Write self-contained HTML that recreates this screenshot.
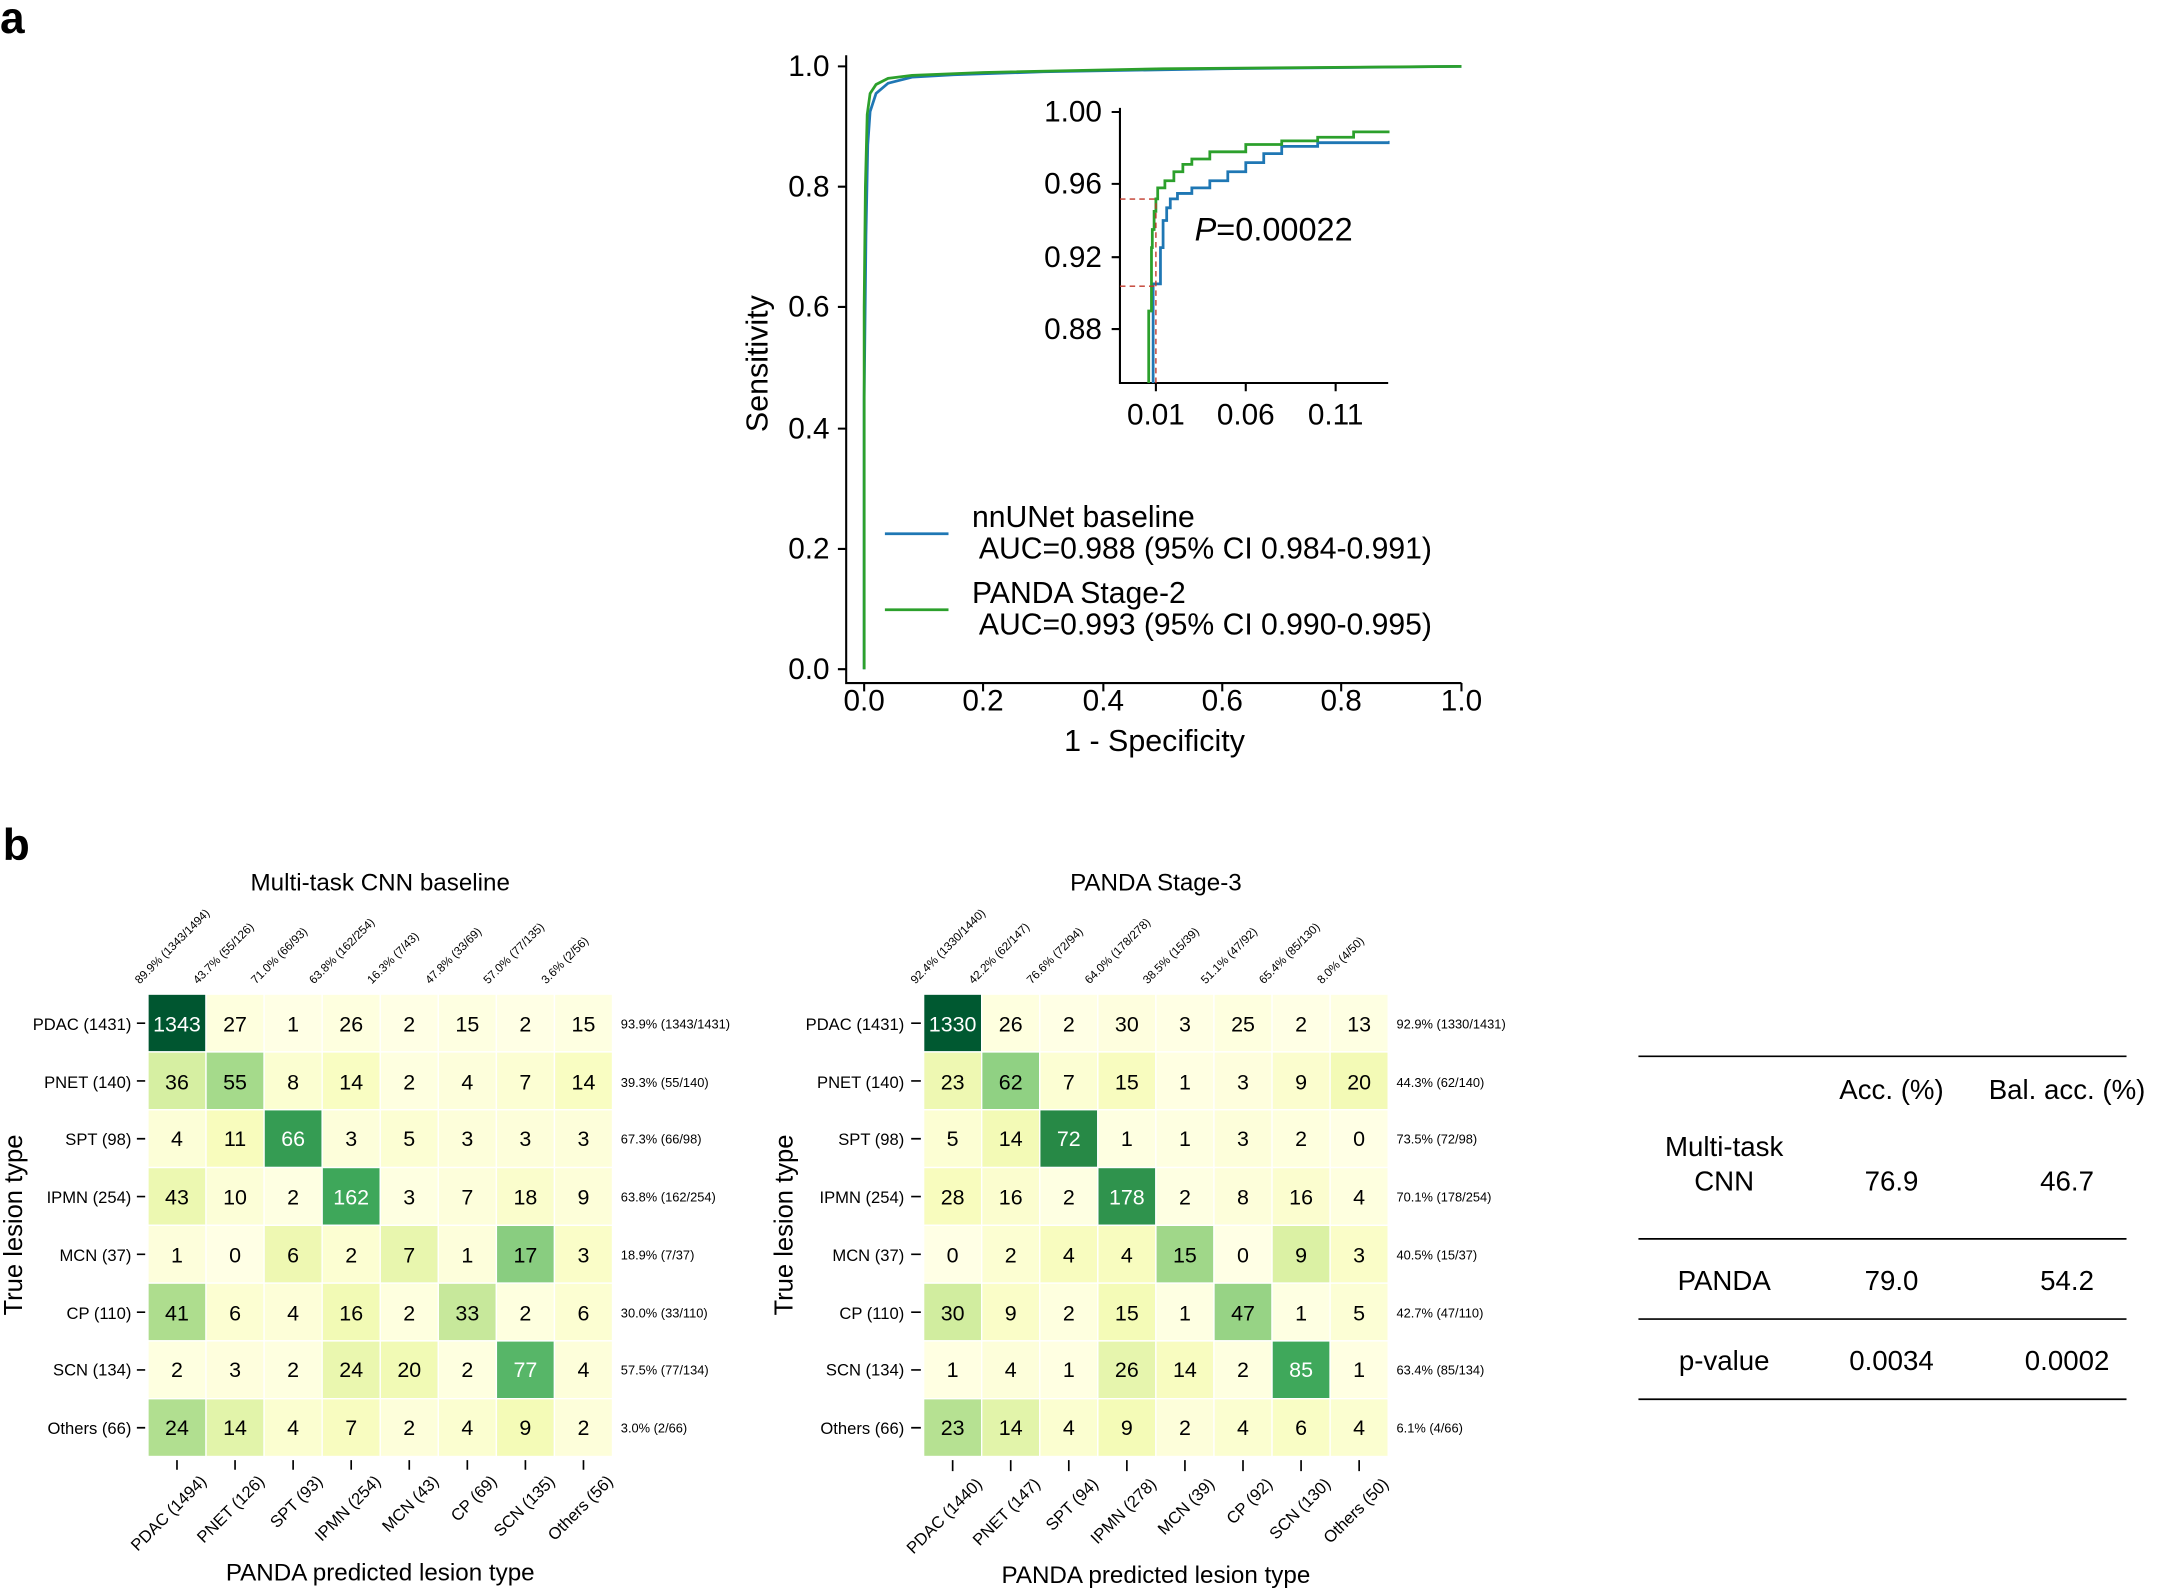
<!DOCTYPE html>
<html><head><meta charset="utf-8"><style>
html,body{margin:0;padding:0;background:#fff}
svg{display:block}
text{font-family:"Liberation Sans",sans-serif;fill:#000}
.n{font-family:"Liberation Sans Narrow","Liberation Sans",sans-serif}
</style></head><body>
<svg id="s" width="2168" height="1592" viewBox="0 0 1568 1151.4" preserveAspectRatio="none" xmlns="http://www.w3.org/2000/svg">
<defs><clipPath id="ic"><rect x="811" y="78" width="194" height="199"/></clipPath></defs>
<text x="0" y="24" font-size="32" font-weight="bold">a</text>
<text x="2" y="622" font-size="32" font-weight="bold">b</text>

<g stroke="#000" stroke-width="1.5" fill="none">
<path d="M612,40 V494 H1057"/>
<path d="M606,48 H612 M606,135 H612 M606,222 H612 M606,310 H612 M606,397 H612 M606,484 H612"/>
<path d="M625,494 V500 M711,494 V500 M798,494 V500 M884,494 V500 M970,494 V500 M1057,494 V500"/>
</g>
<g font-size="21.5" text-anchor="end">
<text x="600" y="55">1.0</text><text x="600" y="142">0.8</text><text x="600" y="229">0.6</text>
<text x="600" y="317">0.4</text><text x="600" y="404">0.2</text><text x="600" y="491">0.0</text>
</g>
<g font-size="21.5" text-anchor="middle">
<text x="625" y="514">0.0</text><text x="711" y="514">0.2</text><text x="798" y="514">0.4</text>
<text x="884" y="514">0.6</text><text x="970" y="514">0.8</text><text x="1057" y="514">1.0</text>
<text x="835" y="543" font-size="22">1 - Specificity</text>
<text transform="translate(555,263) rotate(-90)" font-size="22">Sensitivity</text>
</g>
<path id="mb" fill="none" stroke="#1f77b4" stroke-width="2"/>
<path id="mg" fill="none" stroke="#2ca02c" stroke-width="2"/>

<g stroke="#000" stroke-width="1.5" fill="none">
<path d="M810,78 V277 H1004"/>
<path d="M804,81 H810 M804,133 H810 M804,186 H810 M804,238 H810"/>
<path d="M836,277 V283 M901,277 V283 M966,277 V283"/>
</g>
<g clip-path="url(#ic)">
<path id="ib" fill="none" stroke="#1f77b4" stroke-width="2"/>
<path id="ig" fill="none" stroke="#2ca02c" stroke-width="2"/>
</g>
<path d="M810,144 H836 M810,207 H836 M836,277 V144" stroke="#c0392b" stroke-width="1" stroke-dasharray="4,3" fill="none"/>
<g font-size="21.5" text-anchor="end">
<text x="797" y="88">1.00</text><text x="797" y="140">0.96</text><text x="797" y="193">0.92</text><text x="797" y="245">0.88</text>
</g>
<g font-size="21.5" text-anchor="middle">
<text x="836" y="307">0.01</text><text x="901" y="307">0.06</text><text x="966" y="307">0.11</text>
</g>
<text x="864" y="174" font-size="23.5"><tspan font-style="italic">P</tspan>=0.00022</text>

<path d="M640,386 H686" stroke="#1f77b4" stroke-width="2"/>
<path d="M640,441 H686" stroke="#2ca02c" stroke-width="2"/>
<g font-size="21.8">
<text x="703" y="381">nnUNet baseline</text>
<text x="708" y="404">AUC=0.988 (95% CI 0.984-0.991)</text>
<text x="703" y="436">PANDA Stage-2</text>
<text x="708" y="459">AUC=0.993 (95% CI 0.990-0.995)</text>
</g>

<g id="cells"></g>
<text x="275" y="644" font-size="17.5" text-anchor="middle">Multi-task CNN baseline</text>
<text x="836" y="644" font-size="17.5" text-anchor="middle">PANDA Stage-3</text>

<g class="n" font-size="8.5">
<text transform="translate(101,712) rotate(-45)" class="n">89.9% (1343/1494)</text>
<text transform="translate(143,712) rotate(-45)" class="n">43.7% (55/126)</text>
<text transform="translate(185,712) rotate(-45)" class="n">71.0% (66/93)</text>
<text transform="translate(227,712) rotate(-45)" class="n">63.8% (162/254)</text>
<text transform="translate(269,712) rotate(-45)" class="n">16.3% (7/43)</text>
<text transform="translate(311,712) rotate(-45)" class="n">47.8% (33/69)</text>
<text transform="translate(353,712) rotate(-45)" class="n">57.0% (77/135)</text>
<text transform="translate(395,712) rotate(-45)" class="n">3.6% (2/56)</text>
<text transform="translate(662,712) rotate(-45)" class="n">92.4% (1330/1440)</text>
<text transform="translate(704,712) rotate(-45)" class="n">42.2% (62/147)</text>
<text transform="translate(746,712) rotate(-45)" class="n">76.6% (72/94)</text>
<text transform="translate(788,712) rotate(-45)" class="n">64.0% (178/278)</text>
<text transform="translate(830,712) rotate(-45)" class="n">38.5% (15/39)</text>
<text transform="translate(872,712) rotate(-45)" class="n">51.1% (47/92)</text>
<text transform="translate(914,712) rotate(-45)" class="n">65.4% (85/130)</text>
<text transform="translate(956,712) rotate(-45)" class="n">8.0% (4/50)</text>
</g>

<g class="n" font-size="9.3">
<text x="449" y="744" class="n">93.9% (1343/1431)</text>
<text x="449" y="786" class="n">39.3% (55/140)</text>
<text x="449" y="827" class="n">67.3% (66/98)</text>
<text x="449" y="869" class="n">63.8% (162/254)</text>
<text x="449" y="911" class="n">18.9% (7/37)</text>
<text x="449" y="953" class="n">30.0% (33/110)</text>
<text x="449" y="994" class="n">57.5% (77/134)</text>
<text x="449" y="1036" class="n">3.0% (2/66)</text>
<text x="1010" y="744" class="n">92.9% (1330/1431)</text>
<text x="1010" y="786" class="n">44.3% (62/140)</text>
<text x="1010" y="827" class="n">73.5% (72/98)</text>
<text x="1010" y="869" class="n">70.1% (178/254)</text>
<text x="1010" y="911" class="n">40.5% (15/37)</text>
<text x="1010" y="953" class="n">42.7% (47/110)</text>
<text x="1010" y="994" class="n">63.4% (85/134)</text>
<text x="1010" y="1036" class="n">6.1% (4/66)</text>
</g>

<g class="n" font-size="12" text-anchor="end">
<text x="95" y="745" class="n">PDAC (1431)</text>
<text x="95" y="787" class="n">PNET (140)</text>
<text x="95" y="828" class="n">SPT (98)</text>
<text x="95" y="870" class="n">IPMN (254)</text>
<text x="95" y="912" class="n">MCN (37)</text>
<text x="95" y="954" class="n">CP (110)</text>
<text x="95" y="995" class="n">SCN (134)</text>
<text x="95" y="1037" class="n">Others (66)</text>
<text x="654" y="745" class="n">PDAC (1431)</text>
<text x="654" y="787" class="n">PNET (140)</text>
<text x="654" y="828" class="n">SPT (98)</text>
<text x="654" y="870" class="n">IPMN (254)</text>
<text x="654" y="912" class="n">MCN (37)</text>
<text x="654" y="954" class="n">CP (110)</text>
<text x="654" y="995" class="n">SCN (134)</text>
<text x="654" y="1037" class="n">Others (66)</text>
</g>
<g id="ticks" stroke="#000" stroke-width="1.2"></g>

<g class="n" font-size="12" text-anchor="end">
<text transform="translate(150,1072) rotate(-45)" class="n">PDAC (1494)</text>
<text transform="translate(192,1072) rotate(-45)" class="n">PNET (126)</text>
<text transform="translate(234,1072) rotate(-45)" class="n">SPT (93)</text>
<text transform="translate(276,1072) rotate(-45)" class="n">IPMN (254)</text>
<text transform="translate(318,1072) rotate(-45)" class="n">MCN (43)</text>
<text transform="translate(360,1072) rotate(-45)" class="n">CP (69)</text>
<text transform="translate(402,1072) rotate(-45)" class="n">SCN (135)</text>
<text transform="translate(444,1072) rotate(-45)" class="n">Others (56)</text>
<text transform="translate(711,1074) rotate(-45)" class="n">PDAC (1440)</text>
<text transform="translate(753,1074) rotate(-45)" class="n">PNET (147)</text>
<text transform="translate(795,1074) rotate(-45)" class="n">SPT (94)</text>
<text transform="translate(837,1074) rotate(-45)" class="n">IPMN (278)</text>
<text transform="translate(879,1074) rotate(-45)" class="n">MCN (39)</text>
<text transform="translate(921,1074) rotate(-45)" class="n">CP (92)</text>
<text transform="translate(963,1074) rotate(-45)" class="n">SCN (130)</text>
<text transform="translate(1005,1074) rotate(-45)" class="n">Others (50)</text>
</g>
<text x="275" y="1143" font-size="17.5" text-anchor="middle">PANDA predicted lesion type</text>
<text x="836" y="1145" font-size="17.5" text-anchor="middle">PANDA predicted lesion type</text>
<text transform="translate(16,886) rotate(-90)" font-size="18.5" text-anchor="middle">True lesion type</text>
<text transform="translate(573,886) rotate(-90)" font-size="18.5" text-anchor="middle">True lesion type</text>

<g class="n" font-size="15.5" text-anchor="middle" id="nums">
<text x="128" y="746" style="fill:#fff">1343</text><text x="170" y="746">27</text><text x="212" y="746">1</text><text x="254" y="746">26</text><text x="296" y="746">2</text><text x="338" y="746">15</text><text x="380" y="746">2</text><text x="422" y="746">15</text>
<text x="128" y="788">36</text><text x="170" y="788">55</text><text x="212" y="788">8</text><text x="254" y="788">14</text><text x="296" y="788">2</text><text x="338" y="788">4</text><text x="380" y="788">7</text><text x="422" y="788">14</text>
<text x="128" y="829">4</text><text x="170" y="829">11</text><text x="212" y="829" style="fill:#fff">66</text><text x="254" y="829">3</text><text x="296" y="829">5</text><text x="338" y="829">3</text><text x="380" y="829">3</text><text x="422" y="829">3</text>
<text x="128" y="871">43</text><text x="170" y="871">10</text><text x="212" y="871">2</text><text x="254" y="871" style="fill:#fff">162</text><text x="296" y="871">3</text><text x="338" y="871">7</text><text x="380" y="871">18</text><text x="422" y="871">9</text>
<text x="128" y="913">1</text><text x="170" y="913">0</text><text x="212" y="913">6</text><text x="254" y="913">2</text><text x="296" y="913">7</text><text x="338" y="913">1</text><text x="380" y="913">17</text><text x="422" y="913">3</text>
<text x="128" y="955">41</text><text x="170" y="955">6</text><text x="212" y="955">4</text><text x="254" y="955">16</text><text x="296" y="955">2</text><text x="338" y="955">33</text><text x="380" y="955">2</text><text x="422" y="955">6</text>
<text x="128" y="996">2</text><text x="170" y="996">3</text><text x="212" y="996">2</text><text x="254" y="996">24</text><text x="296" y="996">20</text><text x="338" y="996">2</text><text x="380" y="996" style="fill:#fff">77</text><text x="422" y="996">4</text>
<text x="128" y="1038">24</text><text x="170" y="1038">14</text><text x="212" y="1038">4</text><text x="254" y="1038">7</text><text x="296" y="1038">2</text><text x="338" y="1038">4</text><text x="380" y="1038">9</text><text x="422" y="1038">2</text>

<text x="689" y="746" style="fill:#fff">1330</text><text x="731" y="746">26</text><text x="773" y="746">2</text><text x="815" y="746">30</text><text x="857" y="746">3</text><text x="899" y="746">25</text><text x="941" y="746">2</text><text x="983" y="746">13</text>
<text x="689" y="788">23</text><text x="731" y="788">62</text><text x="773" y="788">7</text><text x="815" y="788">15</text><text x="857" y="788">1</text><text x="899" y="788">3</text><text x="941" y="788">9</text><text x="983" y="788">20</text>
<text x="689" y="829">5</text><text x="731" y="829">14</text><text x="773" y="829" style="fill:#fff">72</text><text x="815" y="829">1</text><text x="857" y="829">1</text><text x="899" y="829">3</text><text x="941" y="829">2</text><text x="983" y="829">0</text>
<text x="689" y="871">28</text><text x="731" y="871">16</text><text x="773" y="871">2</text><text x="815" y="871" style="fill:#fff">178</text><text x="857" y="871">2</text><text x="899" y="871">8</text><text x="941" y="871">16</text><text x="983" y="871">4</text>
<text x="689" y="913">0</text><text x="731" y="913">2</text><text x="773" y="913">4</text><text x="815" y="913">4</text><text x="857" y="913">15</text><text x="899" y="913">0</text><text x="941" y="913">9</text><text x="983" y="913">3</text>
<text x="689" y="955">30</text><text x="731" y="955">9</text><text x="773" y="955">2</text><text x="815" y="955">15</text><text x="857" y="955">1</text><text x="899" y="955">47</text><text x="941" y="955">1</text><text x="983" y="955">5</text>
<text x="689" y="996">1</text><text x="731" y="996">4</text><text x="773" y="996">1</text><text x="815" y="996">26</text><text x="857" y="996">14</text><text x="899" y="996">2</text><text x="941" y="996" style="fill:#fff">85</text><text x="983" y="996">1</text>
<text x="689" y="1038">23</text><text x="731" y="1038">14</text><text x="773" y="1038">4</text><text x="815" y="1038">9</text><text x="857" y="1038">2</text><text x="899" y="1038">4</text><text x="941" y="1038">6</text><text x="983" y="1038">4</text>
</g>

<g stroke="#000" stroke-width="1.2">
<path d="M1185,764 H1538 M1185,896 H1538 M1185,954 H1538 M1185,1012 H1538"/>
</g>
<g font-size="20" text-anchor="middle">
<text x="1368" y="795">Acc. (%)</text><text x="1495" y="795">Bal. acc. (%)</text>
<text x="1247" y="836">Multi-task</text><text x="1247" y="861">CNN</text>
<text x="1368" y="861">76.9</text><text x="1495" y="861">46.7</text>
<text x="1247" y="933">PANDA</text><text x="1368" y="933">79.0</text><text x="1495" y="933">54.2</text>
<text x="1247" y="991">p-value</text><text x="1368" y="991">0.0034</text><text x="1495" y="991">0.0002</text>
</g>
</svg>
<script>
(function(){
var NS="http://www.w3.org/2000/svg";
function P(pts,fx,fy){return pts.map(function(p,i){return (i?"L":"M")+fx(p[0]).toFixed(1)+","+fy(p[1]).toFixed(1)}).join("")}
function stair(pts){var o=[pts[0]];for(var i=1;i<pts.length;i++){o.push([pts[i][0],pts[i-1][1]]);o.push(pts[i]);}return o;}
var MX=function(f){return 625+432*f},MY=function(s){return 484-436*s};
var b=[[0,0],[0,0.45],[0.003,0.72],[0.006,0.87],[0.01,0.925],[0.02,0.955],[0.04,0.972],[0.08,0.982],[0.15,0.986],[0.3,0.991],[0.6,0.996],[1,1]];
var g=[[0,0],[0,0.6],[0.002,0.8],[0.005,0.92],[0.01,0.955],[0.02,0.97],[0.04,0.98],[0.08,0.985],[0.2,0.99],[0.5,0.996],[1,1]];
document.getElementById("mb").setAttribute("d",P(b,MX,MY));
document.getElementById("mg").setAttribute("d",P(g,MX,MY));
var IX=function(f){return 836+(f-0.01)*1300},IY=function(s){return 81+(1-s)*1308};
var ib=[[0.0085,0.8],[0.0085,0.905],[0.012,0.905],[0.0125,0.925],[0.014,0.94],[0.016,0.947],[0.018,0.952],[0.022,0.955],[0.03,0.958],[0.04,0.962],[0.05,0.967],[0.06,0.972],[0.07,0.977],[0.08,0.981],[0.1,0.983],[0.14,0.984]];
var ig=[[0.006,0.8],[0.006,0.89],[0.0075,0.925],[0.008,0.935],[0.009,0.945],[0.01,0.952],[0.011,0.958],[0.015,0.962],[0.02,0.967],[0.025,0.971],[0.03,0.974],[0.04,0.978],[0.06,0.982],[0.08,0.984],[0.1,0.986],[0.12,0.989],[0.14,0.989]];
document.getElementById("ib").setAttribute("d",P(stair(ib),IX,IY));
document.getElementById("ig").setAttribute("d",P(stair(ig),IX,IY));
var L=[[1343,27,1,26,2,15,2,15],[36,55,8,14,2,4,7,14],[4,11,66,3,5,3,3,3],[43,10,2,162,3,7,18,9],[1,0,6,2,7,1,17,3],[41,6,4,16,2,33,2,6],[2,3,2,24,20,2,77,4],[24,14,4,7,2,4,9,2]];
var R=[[1330,26,2,30,3,25,2,13],[23,62,7,15,1,3,9,20],[5,14,72,1,1,3,2,0],[28,16,2,178,2,8,16,4],[0,2,4,4,15,0,9,3],[30,9,2,15,1,47,1,5],[1,4,1,26,14,2,85,1],[23,14,4,9,2,4,6,4]];
var T=[1431,140,98,254,37,110,134,66];
var cm=[[255,255,229],[247,252,185],[217,240,163],[173,221,142],[120,198,121],[65,171,93],[35,132,67],[0,104,55],[0,69,41]];
function col(t){t=Math.max(0,Math.min(1,t))*8;var i=Math.min(7,Math.floor(t)),f=t-i,a=cm[i],c=cm[i+1];return "rgb("+[0,1,2].map(function(k){return Math.round(a[k]+(c[k]-a[k])*f)}).join(",")+")";}
var G=document.getElementById("cells");
function draw(M,x0){for(var r=0;r<8;r++)for(var c=0;c<8;c++){var e=document.createElementNS(NS,"rect");e.setAttribute("x",x0+42*c);e.setAttribute("y",719+41.8*r);e.setAttribute("width",42);e.setAttribute("height",41.8);e.setAttribute("fill",col(M[r][c]/T[r]));e.setAttribute("stroke","#fff");e.setAttribute("stroke-width","1");G.appendChild(e);}}
draw(L,107);draw(R,668);
var tk=document.getElementById("ticks"),d="";
for(var r=0;r<8;r++){var y=740+41.8*r;d+="M99,"+y+"H105M659,"+y+"H666";}
for(var c=0;c<8;c++){d+="M"+(128+42*c)+",1056V1063M"+(689+42*c)+",1056V1064";}
var p=document.createElementNS(NS,"path");p.setAttribute("d",d);tk.appendChild(p);
})();
</script>
</body></html>
